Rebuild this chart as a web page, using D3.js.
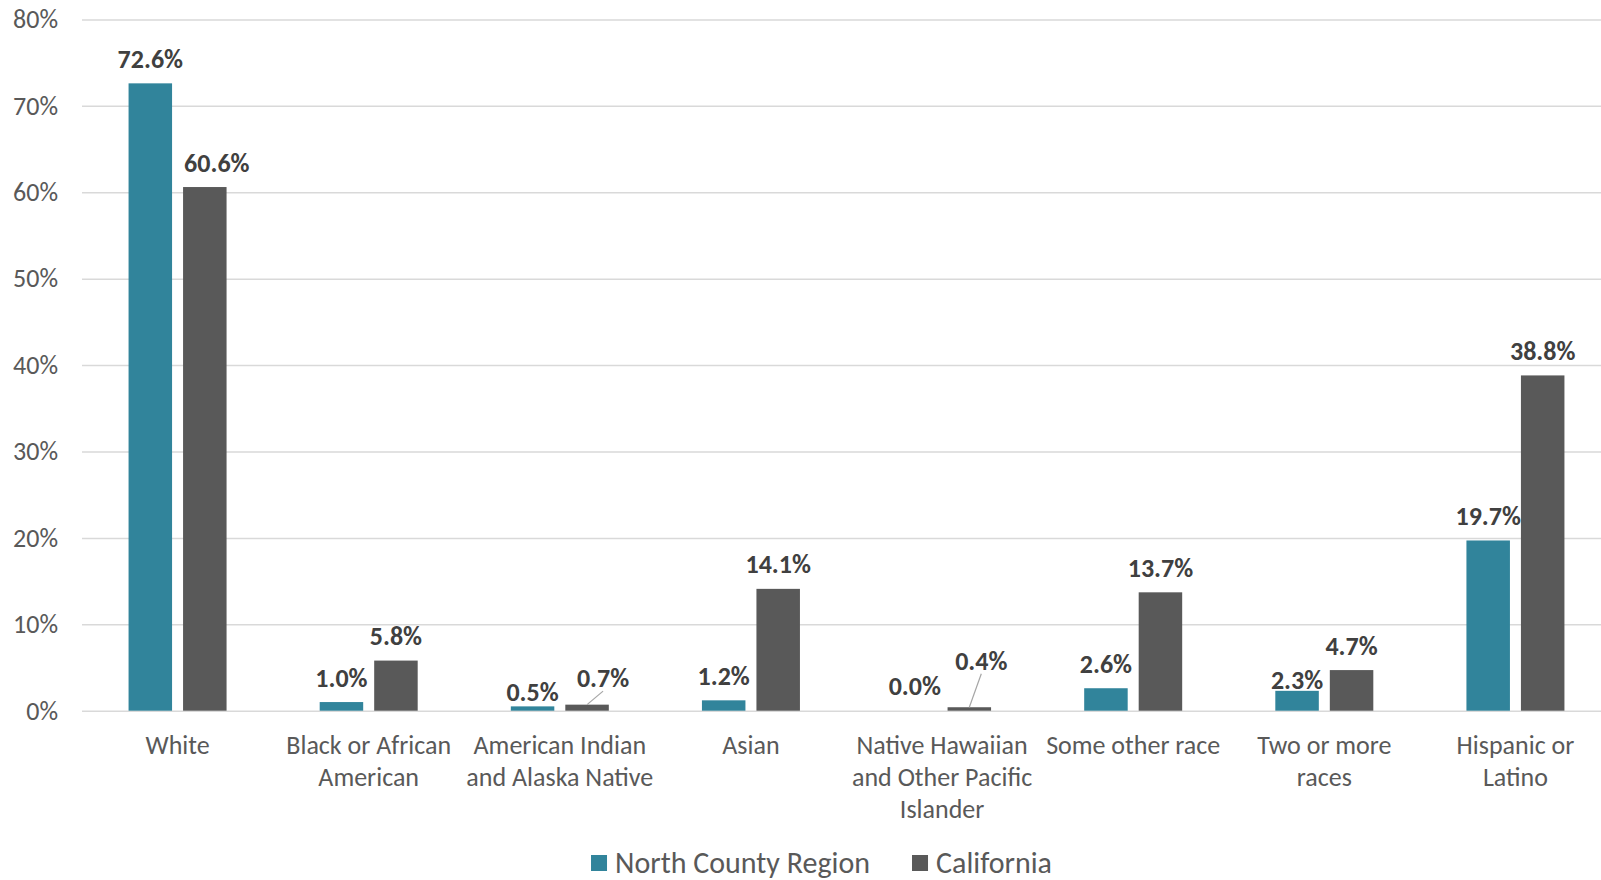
<!doctype html>
<html>
  <head>
    <script src="https://d3js.org/d3.v7.min.js" charset="utf-8"></script>
    <style>
      body { margin: 0; background: #fff; }
      svg text { font-family: Carlito, Calibri, Lato, sans-serif; }
    </style>
  </head>

  <body>
    <script>

// data
var categories = ["White", "Black or African American", "American Indian and Alaska Native",
  "Asian", "Native Hawaiian and Other Pacific Islander", "Some other race",
  "Two or more races", "Hispanic or Latino"];
// category labels as they wrap under the axis
var tickLabels = [["White"], ["Black or African", "American"], ["American Indian", "and Alaska Native"],
  ["Asian"], ["Native Hawaiian", "and Other Pacific", "Islander"], ["Some other race"],
  ["Two or more", "races"], ["Hispanic or", "Latino"]];
var seriesNames = ["North County Region", "California"];
var northCounty = [72.6, 1.0, 0.5, 1.2, 0.0, 2.6, 2.3, 19.7];
var california = [60.6, 5.8, 0.7, 14.1, 0.4, 13.7, 4.7, 38.8];
var yTicks = [0, 10, 20, 30, 40, 50, 60, 70, 80];

var colors = { "North County Region": "#31849B", "California": "#595959" };

// labels that were dragged away from their bars in the original (dx, dy, leader line)
var labelNudge = {
  "California|White": { dx: 12, dy: 0 },
  "North County Region|American Indian and Alaska Native": { dx: 0, dy: 10 },
  "North County Region|Two or more races": { dx: 0, dy: 14 },
  "California|American Indian and Alaska Native": { dx: 16, dy: -2, leader: true },
  "California|Native Hawaiian and Other Pacific Islander": { dx: 12, dy: -22, leader: true }
};

var W = 1601, H = 880;
var plot = { left: 82, right: 1611, top: 19.4, bottom: 710.7 };

var svg = d3.select("body")
  .append("svg")
    .attr("width", W)
    .attr("height", H);

var x0 = d3.scaleBand()
  .domain(categories)
  .range([plot.left, plot.right])
  .padding(0);

var bw = x0.bandwidth();
var x1 = d3.scaleBand()
  .domain(seriesNames)
  .range([bw / 2 - 49, bw / 2 + 49])
  .paddingInner(0.2018)
  .paddingOuter(0);

var y = d3.scaleLinear()
  .domain([0, 80])
  .range([plot.bottom, plot.top]);

// gridlines + y tick labels
var yAxis = svg.append("g")
  .attr("transform", "translate(" + plot.left + ",0)")
  .call(d3.axisLeft(y)
    .tickValues(yTicks)
    .tickSize(-(W - plot.left))
    .tickPadding(24)
    .tickFormat(function(d) { return d + "%"; }));

yAxis.select(".domain").remove();
yAxis.selectAll(".tick line")
  .attr("stroke", "#D9D9D9")
  .attr("stroke-width", 1.5);
yAxis.selectAll(".tick text")
  .attr("fill", "#595959")
  .style("font-size", "26px");

// category axis
var xAxis = svg.append("g")
  .attr("transform", "translate(0," + plot.bottom + ")")
  .call(d3.axisBottom(x0).tickSize(0).tickFormat(""));
xAxis.select(".domain").remove();

xAxis.selectAll(".tick")
  .append("text")
    .attr("fill", "#595959")
    .attr("text-anchor", "middle")
    .style("font-size", "26px")
    .each(function(d, i) {
      var t = d3.select(this);
      tickLabels[i].forEach(function(line, j) {
        t.append("tspan")
          .attr("x", 0)
          .attr("y", 43 + j * 32)
          .text(line);
      });
    });

// bar data in long form
var rows = [];
categories.forEach(function(c, i) {
  rows.push({ cat: c, series: "North County Region", value: northCounty[i] });
  rows.push({ cat: c, series: "California", value: california[i] });
});

svg.append("g")
  .selectAll("rect")
  .data(rows)
  .enter()
  .append("rect")
    .attr("x", function(d) { return x0(d.cat) + x1(d.series); })
    .attr("y", function(d) { return y(d.value); })
    .attr("width", x1.bandwidth())
    .attr("height", function(d) { return y(0) - y(d.value); })
    .attr("fill", function(d) { return colors[d.series]; });

// data labels
var labels = svg.append("g");
rows.forEach(function(d) {
  var n = labelNudge[d.series + "|" + d.cat] || { dx: 0, dy: 0 };
  var bx = x0(d.cat) + x1(d.series) + x1.bandwidth() / 2;
  var by = y(d.value);
  var lx = bx + n.dx, ly = by - 24.5 + n.dy;
  if (n.leader) {
    labels.append("line")
      .attr("x1", bx).attr("y1", by)
      .attr("x2", lx).attr("y2", ly + 13)
      .attr("stroke", "#A6A6A6")
      .attr("stroke-width", 1.2);
  }
  labels.append("text")
    .attr("x", lx)
    .attr("y", ly)
    .attr("dy", "0.35em")
    .attr("text-anchor", "middle")
    .attr("fill", "#404040")
    .style("font-size", "26px")
    .style("font-weight", "bold")
    .text(d.value.toFixed(1) + "%");
});

// legend, centred under the chart
var legend = svg.append("g");
var lx = 0;
seriesNames.forEach(function(s, i) {
  var g = legend.append("g").attr("transform", "translate(" + lx + ",0)");
  g.append("rect")
    .attr("x", 0).attr("y", -7)
    .attr("width", 16).attr("height", 16)
    .attr("fill", colors[s]);
  var t = g.append("text")
    .attr("x", 24)
    .attr("dy", "0.35em")
    .attr("fill", "#595959")
    .style("font-size", "30px")
    .text(s);
  lx += 24 + t.node().getComputedTextLength() + 42;
});
var legendWidth = lx - 42;
legend.attr("transform", "translate(" + (821.5 - legendWidth / 2) + ",862)");

    </script>
  </body>

</html>
